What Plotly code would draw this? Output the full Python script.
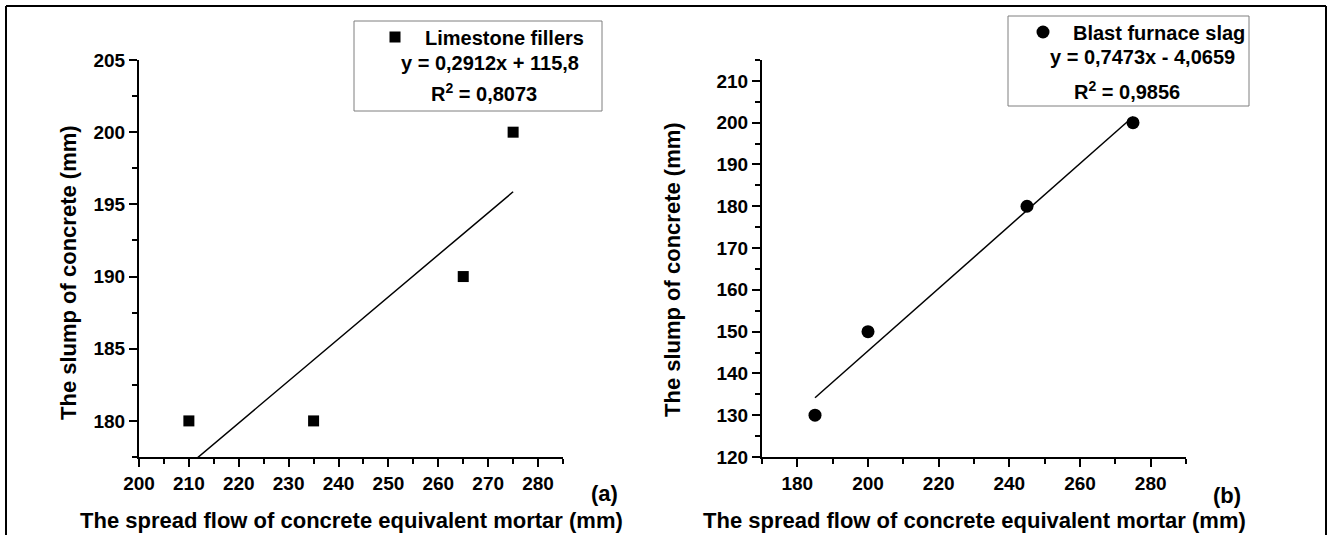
import numpy as np
import plotly.graph_objects as go

# ---------------- data ----------------
lime_x = [210, 235, 265, 275]
lime_y = [180, 180, 190, 200]
slag_x = [185, 200, 245, 275]
slag_y = [130, 150, 180, 200]

a_xticks = [200, 210, 220, 230, 240, 250, 260, 270, 280]
a_yticks = [180, 185, 190, 195, 200, 205]
b_xticks = [180, 200, 220, 240, 260, 280]
b_yticks = [120, 130, 140, 150, 160, 170, 180, 190, 200, 210]

lime_name = "Limestone fillers"
slag_name = "Blast furnace slag"
lime_eq = "y = 0,2912x + 115,8"
lime_r2 = "R<sup>2</sup> = 0,8073"
slag_eq = "y = 0,7473x - 4,0659"
slag_r2 = "R<sup>2</sup> = 0,9856"

x_title = "The spread flow of concrete equivalent mortar (mm)"
y_title = "The slump of concrete (mm)"

# ---------------- geometry ----------------
W, H = 1331, 535
FONT = "Liberation Sans, Arial, sans-serif"


def px(xp):
    return xp / W


def py(yp):
    return 1 - yp / H


def bold(vals):
    return ["<b>%d</b>" % v for v in vals]


# linear fits computed from the data
ka, ba = np.polyfit(lime_x, lime_y, 1)
kb, bb = np.polyfit(slag_x, slag_y, 1)
fit_ax = np.array([min(lime_x), max(lime_x)])
fit_bx = np.array([min(slag_x), max(slag_x)])

fig = go.Figure()

fig.add_trace(go.Scatter(x=lime_x, y=lime_y, mode="markers", name=lime_name,
                         marker=dict(symbol="square", size=11, color="black"),
                         xaxis="x", yaxis="y", legend="legend"))
fig.add_trace(go.Scatter(x=fit_ax, y=ka * fit_ax + ba, mode="lines", showlegend=False,
                         line=dict(color="black", width=1.5), xaxis="x", yaxis="y"))
fig.add_trace(go.Scatter(x=slag_x, y=slag_y, mode="markers", name=slag_name,
                         marker=dict(symbol="circle", size=13, color="black"),
                         xaxis="x2", yaxis="y2", legend="legend2"))
fig.add_trace(go.Scatter(x=fit_bx, y=kb * fit_bx + bb, mode="lines", showlegend=False,
                         line=dict(color="black", width=1.5), xaxis="x2", yaxis="y2"))

tickfont = dict(family=FONT, size=19, color="black", weight="bold")
common = dict(showline=True, linecolor="black", linewidth=2, ticks="outside",
              ticklen=8, tickwidth=2, tickcolor="black", showgrid=False,
              zeroline=False, tickfont=tickfont, automargin=False, mirror=False,
              tickmode="array")


def minor(step, start):
    return dict(tickmode="linear", tick0=start, dtick=step, ticks="outside",
                ticklen=5, tickwidth=2, tickcolor="black", showgrid=False)


ydom = [py(457), py(60)]
fig.update_layout(
    width=W, height=H,
    margin=dict(l=0, r=0, t=0, b=0),
    paper_bgcolor="white", plot_bgcolor="white",
    xaxis=dict(domain=[px(139), px(563)], range=[200, 285], anchor="y",
               tickvals=a_xticks, ticktext=bold(a_xticks), minor=minor(5, 205), **common),
    yaxis=dict(domain=ydom, range=[177.5, 205], anchor="x",
               tickvals=a_yticks, ticktext=bold(a_yticks), minor=minor(2.5, 177.5), **common),
    xaxis2=dict(domain=[px(762), px(1186)], range=[170, 290], anchor="y2",
                tickvals=b_xticks, ticktext=bold(b_xticks), minor=minor(10, 170), **common),
    yaxis2=dict(domain=ydom, range=[120, 215], anchor="x2",
                tickvals=b_yticks, ticktext=bold(b_yticks), minor=minor(5, 115), **common),
    legend=dict(x=px(365), y=py(37), xanchor="left", yanchor="middle",
                bgcolor="rgba(0,0,0,0)", borderwidth=0, itemwidth=50,
                font=dict(family=FONT, size=20, color="black", weight="bold")),
    legend2=dict(x=px(1013), y=py(32), xanchor="left", yanchor="middle",
                 bgcolor="rgba(0,0,0,0)", borderwidth=0, itemwidth=50,
                 font=dict(family=FONT, size=20, color="black", weight="bold")),
)

shapes = [
    # outer frame (left, top, right)
    dict(type="line", xref="paper", yref="paper", x0=px(6), x1=px(6), y0=-0.05, y1=py(6),
         line=dict(color="black", width=2)),
    dict(type="line", xref="paper", yref="paper", x0=px(6), x1=px(1326), y0=py(6), y1=py(6),
         line=dict(color="black", width=2)),
    dict(type="line", xref="paper", yref="paper", x0=px(1326), x1=px(1326), y0=-0.05, y1=py(6),
         line=dict(color="black", width=2)),
    # legend boxes
    dict(type="rect", xref="paper", yref="paper", x0=px(354), x1=px(602), y0=py(111), y1=py(21),
         line=dict(color="#7f7f7f", width=1)),
    dict(type="rect", xref="paper", yref="paper", x0=px(1008), x1=px(1249), y0=py(106), y1=py(16),
         line=dict(color="#7f7f7f", width=1)),
]
fig.update_layout(shapes=shapes)

af = dict(family=FONT, size=20, color="black", weight="bold")
tf = dict(family=FONT, size=22, color="black", weight="bold")
ann = [
    dict(text=lime_eq, x=px(490), y=py(63), font=af),
    dict(text=lime_r2, x=px(484), y=py(93), font=af),
    dict(text=slag_eq, x=px(1142), y=py(57), font=af),
    dict(text=slag_r2, x=px(1127), y=py(90), font=af),
    dict(text=x_title, x=px(351), y=py(520), font=tf),
    dict(text=x_title, x=px(974), y=py(520), font=tf),
    dict(text=y_title, x=px(68), y=py(273), font=tf, textangle=-90),
    dict(text=y_title, x=px(673), y=py(270), font=tf, textangle=-90),
    dict(text="(a)", x=px(620), y=py(493), font=tf, xanchor="right"),
    dict(text="(b)", x=px(1243), y=py(495), font=tf, xanchor="right"),
]
for a in ann:
    a.setdefault("xanchor", "center")
    a.update(xref="paper", yref="paper", yanchor="middle", showarrow=False)
fig.update_layout(annotations=ann)

fig.write_html("out.html")
